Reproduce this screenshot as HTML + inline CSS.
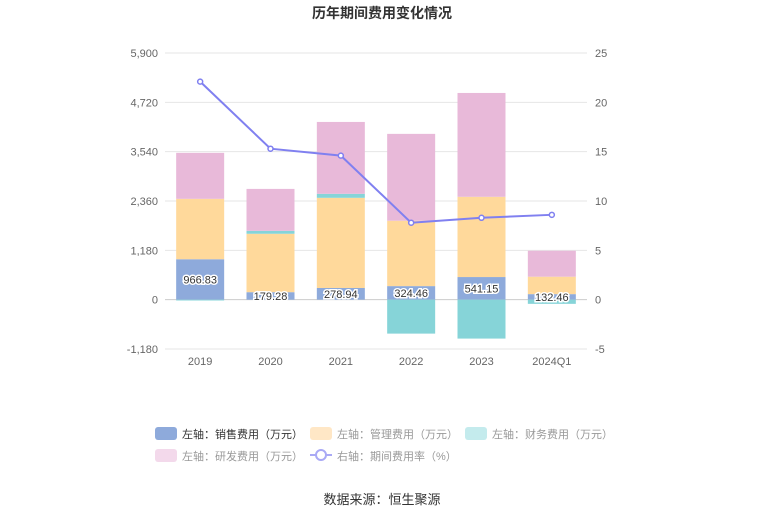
<!DOCTYPE html>
<html><head><meta charset="utf-8"><style>
body{margin:0;background:#fff;font-family:"Liberation Sans","Noto Sans CJK SC",sans-serif;}
svg text{font-family:"Liberation Sans","Noto Sans CJK SC",sans-serif;}
</style></head><body>
<svg id="c" width="765" height="517">
<text x="382" y="18" text-anchor="middle" font-size="14" font-weight="bold" fill="#333">历年期间费用变化情况</text>
<g id="grid"></g><g id="bars"></g><g id="line"></g><g id="labels"></g>
<g font-size="11">
<g><rect x="155" y="427" width="22" height="13" rx="3" fill="#8eaadb"/><text x="182" y="438" fill="#333">左轴：销售费用（万元）</text></g>
<g><rect x="310" y="427" width="22" height="13" rx="3" fill="#ffe7c6"/><text x="337" y="438" fill="#999">左轴：管理费用（万元）</text></g>
<g><rect x="465" y="427" width="22" height="13" rx="3" fill="#c4ebed"/><text x="492" y="438" fill="#999">左轴：财务费用（万元）</text></g>
<g><rect x="155" y="449" width="22" height="13" rx="3" fill="#f3d9eb"/><text x="182" y="460" fill="#999">左轴：研发费用（万元）</text></g>
<g><line x1="310" y1="455" x2="332" y2="455" stroke="#a9a9f5" stroke-width="2"/><circle cx="321" cy="455" r="5" fill="#fff" stroke="#a9a9f5" stroke-width="2"/><text x="337" y="460" fill="#999">右轴：期间费用率（%）</text></g>
</g>
<text x="382" y="504" text-anchor="middle" font-size="13" fill="#333">数据来源：恒生聚源</text>
</svg>
<script>
const categories=["2019","2020","2021","2022","2023","2024Q1"];
const sales=[966.83,179.28,278.94,324.46,541.15,132.46];
const mgmt=[1445,1397,2157,1563,1919,417];
const finance=[-20,70,96,-812,-931,-100];
const rnd=[1100,1003,1719,2078,2484,621];
const rate=[22.1,15.3,14.6,7.8,8.3,8.6];
const leftTicks=[-1180,0,1180,2360,3540,4720,5900];
const rightTicks=[-5,0,5,10,15,20,25];
const NS="http://www.w3.org/2000/svg";
const x0=165,x1=587,yTop=53,yBot=349;
const yL=v=>yTop+(5900-v)/(7080)*(yBot-yTop);
const yR=v=>yTop+(25-v)/30*(yBot-yTop);
const bw=(x1-x0)/categories.length;
const xC=i=>x0+bw*(i+0.5);
function mk(tag,attrs,parent,txt){const e=document.createElementNS(NS,tag);for(const k in attrs)e.setAttribute(k,attrs[k]);if(txt!=null)e.textContent=txt;document.getElementById(parent).appendChild(e);return e;}
leftTicks.forEach((t,i)=>{const y=yL(t);
const g=mk('line',{x1:x0,x2:x1,y1:y,y2:y,stroke:t===0?'#ccc':'#e6e6e6'},'grid');

const l=mk('text',{x:x0-7,y:y+4,'text-anchor':'end','font-size':11,fill:'#666'},'grid',t.toLocaleString('en-US'));

const r=mk('text',{x:x1+8,y:yR(rightTicks[i])+4,'font-size':11,fill:'#666'},'grid',rightTicks[i]);
});
categories.forEach((c,i)=>{
const t=mk('text',{x:xC(i),y:yBot+16,'text-anchor':'middle','font-size':11,fill:'#666'},'grid',c);

const w=48,x=xC(i)-w/2;let pos=0,neg=0;
const series=[[sales,'#8eaadb','bar-sales'],[mgmt,'#ffd99b','bar-mgmt'],[finance,'#86d4d8','bar-finance'],[rnd,'#e8b9d9','bar-rnd']];
series.forEach(([arr,col,name])=>{const v=arr[i];let a,b;
if(v>=0){a=pos;b=pos+v;pos=b;}else{a=neg;b=neg+v;neg=b;}
const y=Math.min(yL(a),yL(b)),h=Math.abs(yL(a)-yL(b));
const r=mk('rect',{x:x,y:y,width:w,height:h,fill:col},'bars');
});
const lb=mk('text',{x:xC(i),y:yL(sales[i]/2)+4,'text-anchor':'middle','font-size':11,fill:'#333',stroke:'#fff','stroke-width':3,'paint-order':'stroke'},'labels',sales[i].toFixed(2));

});
const pts=rate.map((v,i)=>xC(i)+','+yR(v)).join(' ');
const pl=mk('polyline',{points:pts,fill:'none',stroke:'#8080f0','stroke-width':2},'line');

rate.forEach((v,i)=>{const p=mk('circle',{cx:xC(i),cy:yR(v),r:2.5,fill:'#fff',stroke:'#8080f0','stroke-width':1.5},'line');
});
</script>
</body></html>
